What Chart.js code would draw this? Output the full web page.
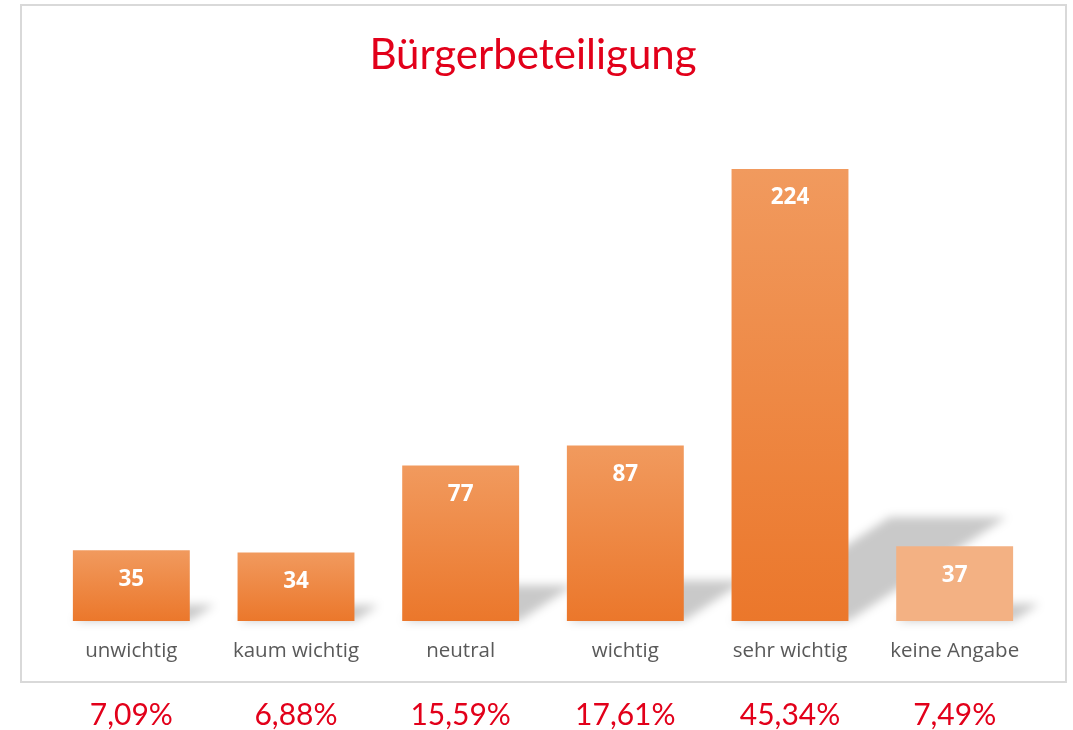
<!DOCTYPE html>
<html lang="de">
<head>
<meta charset="utf-8">
<title>Bürgerbeteiligung</title>
<script src="https://cdn.jsdelivr.net/npm/chart.js@4.4.1/dist/chart.umd.min.js"></script>
<style>
  html, body { margin: 0; padding: 0; background: #fff; }
  #wrap { position: relative; width: 1073px; height: 730px; }
</style>
</head>
<body>
<div id="wrap"><canvas id="chart"></canvas></div>
<script>
const chartTitle = 'Bürgerbeteiligung';
const categories = ['unwichtig', 'kaum wichtig', 'neutral', 'wichtig', 'sehr wichtig', 'keine Angabe'];
const counts     = [35, 34, 77, 87, 224, 37];
const shares     = ['7,09%', '6,88%', '15,59%', '17,61%', '45,34%', '7,49%'];
const yMax       = 250;

const RED    = '#e2001a';
const ORANGE = '#ee8840';

// per-bar vertical gradient, last category ("keine Angabe") drawn flat and pale
function barColor(ctx) {
  if (ctx.type !== 'data') return ORANGE;
  if (ctx.dataIndex === categories.length - 1) return '#f3b183';
  const y = ctx.chart.scales.y;
  if (!y || !ctx.chart.chartArea) return ORANGE;
  const top  = y.getPixelForValue(ctx.raw);
  const base = y.getPixelForValue(0);
  const g = ctx.chart.ctx.createLinearGradient(0, top, 0, base);
  g.addColorStop(0, '#f19a5e');
  g.addColorStop(1, '#eb772b');
  return g;
}

const decor = {
  id: 'decor',
  beforeDraw(chart) {
    const c = chart.ctx;
    c.save();
    c.fillStyle = '#fff';
    c.fillRect(0, 0, chart.width, chart.height);
    c.strokeStyle = '#d9d9d9';
    c.lineWidth = 2;
    c.strokeRect(21, 5, 1045, 677);
    c.fillStyle = RED;
    c.font = '42px Lato';
    c.textAlign = 'center';
    c.textBaseline = 'middle';
    c.fillText(chartTitle, 533, 55);
    c.restore();
  },
  beforeDatasetsDraw(chart) {
    // slanted "perspective" shadow behind each bar
    const c = chart.ctx;
    const meta = chart.getDatasetMeta(0);
    c.save();
    c.filter = 'blur(5px)';
    c.fillStyle = 'rgba(0,0,0,0.21)';
    c.beginPath();
    meta.data.forEach(bar => {
      const h  = bar.base - bar.y;
      const l  = bar.x - bar.width / 2;
      const r  = bar.x + bar.width / 2;
      const dx = h * 0.35, dy = h * 0.23;
      c.moveTo(l, bar.base);
      c.lineTo(r, bar.base);
      c.lineTo(r + dx, bar.base - dy);
      c.lineTo(l + dx, bar.base - dy);
      c.closePath();
    });
    c.fill();
    c.restore();
  },
  afterDatasetsDraw(chart) {
    const c = chart.ctx;
    const meta = chart.getDatasetMeta(0);
    c.save();
    c.fillStyle = '#fff';
    c.font = 'bold 22.5px "Open Sans"';
    c.textAlign = 'center';
    c.textBaseline = 'middle';
    meta.data.forEach((bar, i) => {
      c.fillText(String(counts[i]), bar.x, bar.y + 29);
    });
    c.restore();
  }
};

new Chart(document.getElementById('chart'), {
  type: 'bar',
  data: {
    labels: categories,
    datasets: [{
      data: counts,
      backgroundColor: barColor,
      borderWidth: 0,
      categoryPercentage: 1,
      barPercentage: 0.71,
    }]
  },
  options: {
    responsive: true,
    maintainAspectRatio: false,
    animation: false,
    layout: { padding: { left: 49, right: 36, top: 116.5, bottom: 0 } },
    plugins: {
      legend: { display: false },
      tooltip: { enabled: false },
      title: { display: false },
    },
    scales: {
      y: { display: false, min: 0, max: yMax },
      x: {
        grid: { display: false, drawTicks: false },
        border: { display: false },
        afterFit: scale => { scale.height = 41; },
        ticks: {
          color: '#595959',
          font: { family: 'Open Sans', size: 20.5, lineHeight: 1.2 },
          padding: 18,
          maxRotation: 0,
          autoSkip: false,
        },
      },
      x2: {
        type: 'category',
        labels: shares,
        position: 'bottom',
        weight: 1,
        grid: { display: false, drawTicks: false },
        border: { display: false },
        afterFit: scale => { scale.height = 68; },
        ticks: {
          color: RED,
          font: { family: 'Lato', size: 30, lineHeight: 1 },
          padding: 38,
          maxRotation: 0,
          autoSkip: false,
        },
      },
    }
  },
  plugins: [decor]
});
</script>
</body>
</html>
